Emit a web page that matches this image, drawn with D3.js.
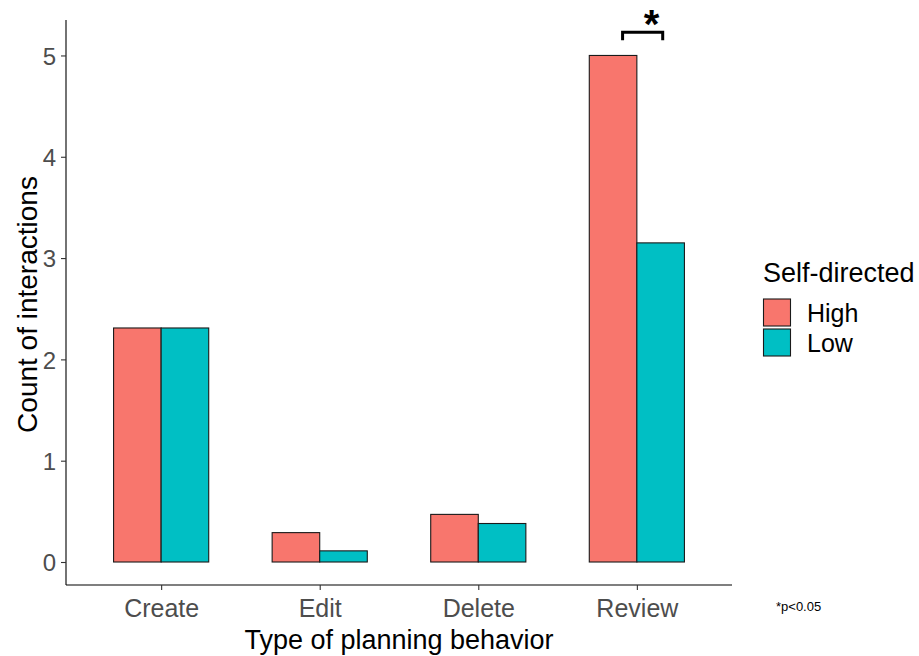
<!DOCTYPE html>
<html>
<head>
<meta charset="utf-8">
<script src="https://cdn.jsdelivr.net/npm/d3@7/dist/d3.min.js"></script>
<style>
  html, body { margin: 0; padding: 0; background: #fff; }
  svg { display: block; font-family: "Liberation Sans", Arial, sans-serif; }
</style>
</head>
<body>
<svg id="chart" width="919" height="656"></svg>
<script>
// Planning behaviour categories and mean interaction counts per group
const categories = ["Create", "Edit", "Delete", "Review"];
const groups = ["High", "Low"];
const highValues = [2.31, 0.29, 0.47, 5.0];
const lowValues = [2.31, 0.11, 0.38, 3.15];
const yTicks = [0, 1, 2, 3, 4, 5];
const groupColors = ["#F8766D", "#00BFC4"];

const svg = d3.select("#chart");

const plot = { left: 66, right: 732, top: 20, bottom: 585 };

const x = d3.scalePoint()
  .domain(categories)
  .range([plot.left, plot.right])
  .padding(0.6);
const step = x.step();
const groupWidth = 0.6 * step;

const xInner = d3.scaleBand()
  .domain(groups)
  .range([-groupWidth / 2, groupWidth / 2])
  .padding(0);

const y = d3.scaleLinear()
  .domain([-0.227, 5.35])
  .range([plot.bottom, plot.top]);

const color = d3.scaleOrdinal().domain(groups).range(groupColors);

const rows = categories.map((c, i) => ({
  category: c,
  values: [
    { group: "High", value: highValues[i] },
    { group: "Low", value: lowValues[i] }
  ]
}));

// Bars
const bars = svg.append("g");
rows.forEach(r => {
  bars.selectAll(null)
    .data(r.values)
    .join("rect")
    .attr("x", d => x(r.category) + xInner(d.group))
    .attr("width", xInner.bandwidth())
    .attr("y", d => y(d.value))
    .attr("height", d => y(0) - y(d.value))
    .attr("fill", d => color(d.group))
    .attr("stroke", "#1a1a1a")
    .attr("stroke-width", 1.1);
});

// Axes
const yAxis = svg.append("g")
  .attr("transform", `translate(${plot.left},0)`)
  .call(d3.axisLeft(y).tickValues(yTicks).tickSize(5).tickPadding(5).tickFormat(d3.format("d")));
yAxis.select(".domain").attr("d", `M0,${plot.top}V${plot.bottom}`).attr("stroke", "#000").attr("stroke-width", 1.1);
yAxis.selectAll(".tick line").attr("stroke", "#333").attr("stroke-width", 1.1);
yAxis.selectAll(".tick text")
  .attr("fill", "#4D4D4D")
  .style("font-size", "24px")
  .attr("dy", "0.36em");

const xAxis = svg.append("g")
  .attr("transform", `translate(0,${plot.bottom})`)
  .call(d3.axisBottom(x).tickSize(5).tickPadding(6));
xAxis.select(".domain").attr("d", `M${plot.left},0H${plot.right}`).attr("stroke", "#000").attr("stroke-width", 1.1);
xAxis.selectAll(".tick line").attr("stroke", "#333").attr("stroke-width", 1.1);
xAxis.selectAll(".tick text")
  .attr("fill", "#4D4D4D")
  .style("font-size", "25px")
  .attr("dy", "0.85em");

// Axis titles
svg.append("text")
  .attr("x", (plot.left + plot.right) / 2)
  .attr("y", 649)
  .attr("text-anchor", "middle")
  .style("font-size", "27px")
  .attr("fill", "#000")
  .text("Type of planning behavior");

svg.append("text")
  .attr("transform", `translate(37,${(plot.top + plot.bottom) / 2 + 2}) rotate(-90)`)
  .attr("text-anchor", "middle")
  .style("font-size", "28px")
  .attr("fill", "#000")
  .text("Count of interactions");

// Significance bracket over Review
const rx = x("Review");
const bracketL = rx - 0.09 * step;
const bracketR = rx + 0.163 * step;
const yTop = y(5.23), yLeg = y(5.15);
svg.append("path")
  .attr("d", `M${bracketL},${yLeg}V${yTop}H${bracketR}V${yLeg}`)
  .attr("fill", "none")
  .attr("stroke", "#000")
  .attr("stroke-width", 3);
svg.append("text")
  .attr("x", (bracketL + bracketR) / 2 + 9)
  .attr("y", yTop + 6)
  .attr("text-anchor", "middle")
  .style("font-size", "40px")
  .style("font-weight", "bold")
  .attr("fill", "#000")
  .text("*");

// Legend
const legend = svg.append("g").attr("transform", "translate(763,0)");
legend.append("text")
  .attr("x", 0).attr("y", 282)
  .style("font-size", "27px")
  .attr("fill", "#000")
  .text("Self-directed");
groups.forEach((g, i) => {
  const top = 299 + i * 30;
  legend.append("rect")
    .attr("x", 0.5).attr("y", top)
    .attr("width", 27).attr("height", 27)
    .attr("fill", color(g))
    .attr("stroke", "#1a1a1a")
    .attr("stroke-width", 1.1);
  legend.append("text")
    .attr("x", 44).attr("y", top + 23)
    .style("font-size", "25px")
    .attr("fill", "#000")
    .text(g);
});

// Footnote
svg.append("text")
  .attr("x", 776).attr("y", 611)
  .style("font-size", "13px")
  .attr("fill", "#000")
  .text("*p<0.05");
</script>
</body>
</html>
